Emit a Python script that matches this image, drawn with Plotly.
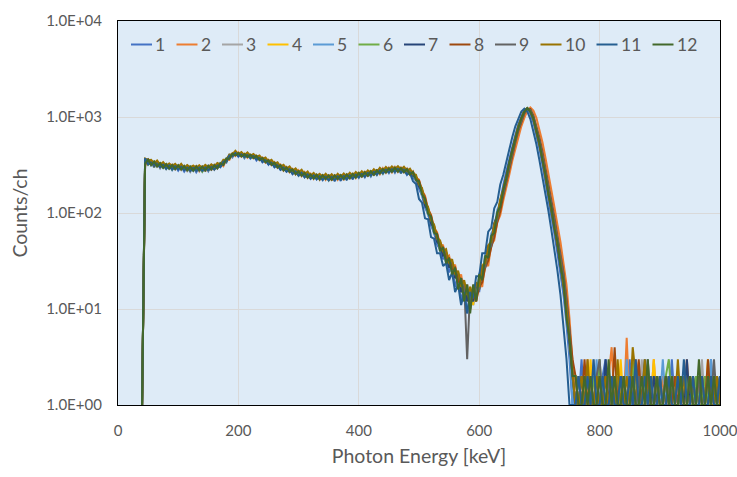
import plotly.graph_objects as go

# ---------------- data ----------------
energy_keV = list(range(40, 1001, 5))  # channel energies (5 keV bins)

series_names = ["1", "2", "3", "4", "5", "6", "7", "8", "9", "10", "11", "12"]
series_colors = ["#4472C4", "#ED7D31", "#A5A5A5", "#FFC000", "#5B9BD5", "#70AD47",
                 "#264478", "#9E480E", "#636363", "#997300", "#255E91", "#43682B"]

counts_1 = [
    1, 372, 318, 345, 298, 335, 292, 326, 288, 318, 280, 312, 276, 305, 270, 300, 268, 302, 266, 298,
    270, 305, 272, 312, 282, 318, 300, 345, 335, 402, 378, 428, 385, 420, 372, 410, 368, 398, 352, 385,
    338, 368, 318, 345, 300, 325, 282, 300, 270, 290, 255, 276, 245, 268, 236, 258, 228, 250, 224, 246,
    220, 248, 218, 245, 214, 246, 216, 248, 220, 252, 224, 256, 232, 262, 235, 268, 240, 275, 248, 282,
    255, 290, 260, 295, 262, 298, 258, 292, 250, 275, 232, 218, 178, 152, 114, 98, 74, 63, 47, 42,
    33, 36, 24, 29, 17, 22, 12, 17, 9, 14, 11, 18, 15, 26, 28, 44, 48, 76, 92, 140,
    195, 270, 370, 500, 650, 840, 1010, 1180, 1220, 1080, 880, 660, 470, 320, 215, 140, 92, 60, 38, 24,
    14, 7, 3, 1,
    2, 1, 3, 1, 2, 1, 1, 2, 1, 2, 3, 1, 1, 2, 1, 1, 2, 1, 3, 1, 2,
    1, 1, 2, 1, 1, 1, 2, 1, 2, 1, 1, 3, 1, 2, 1, 1, 2, 1, 1, 2, 1,
    1, 2, 1, 3, 1, 1, 2,
]
counts_2 = [
    1, 305, 368, 322, 340, 312, 325, 298, 322, 292, 318, 285, 312, 282, 305, 276, 300, 290, 308, 272,
    308, 270, 315, 278, 318, 290, 325, 308, 360, 358, 418, 392, 428, 386, 415, 376, 405, 372, 395, 355,
    378, 335, 358, 315, 338, 296, 318, 276, 302, 266, 288, 252, 278, 242, 266, 232, 256, 226, 250, 222,
    252, 222, 250, 218, 250, 222, 252, 220, 256, 226, 260, 232, 266, 236, 272, 240, 276, 246, 284, 254,
    292, 262, 296, 265, 302, 268, 298, 266, 290, 250, 272, 232, 222, 172, 152, 110, 96, 70, 63, 47,
    46, 34, 36, 26, 29, 19, 23, 14, 18, 10, 16, 12, 19, 17, 30, 28, 47, 52, 80, 95,
    135, 180, 250, 350, 470, 610, 800, 980, 1160, 1260, 1170, 980, 750, 550, 380, 260, 175, 115, 75, 50,
    30, 18, 8, 3,
    1, 2, 1, 1, 3, 1, 2, 1, 2, 1, 1, 2, 4, 1, 1, 2, 1, 5, 1, 1, 3,
    2, 1, 1, 2, 1, 3, 1, 1, 2, 1, 2, 1, 1, 2, 1, 1, 3, 1, 2, 1, 1,
    2, 1, 1, 2, 1, 1, 2,
]
counts_3 = [
    1, 318, 352, 312, 342, 302, 322, 295, 322, 288, 308, 292, 306, 280, 312, 274, 305, 275, 306, 276,
    306, 276, 302, 290, 308, 298, 322, 322, 364, 372, 408, 402, 415, 392, 402, 388, 398, 378, 388, 362,
    368, 342, 348, 322, 328, 302, 306, 284, 292, 272, 276, 260, 266, 246, 256, 240, 246, 232, 245, 228,
    240, 228, 238, 226, 240, 226, 242, 228, 244, 234, 250, 238, 254, 242, 260, 248, 266, 256, 272, 264,
    280, 268, 285, 274, 290, 276, 288, 270, 280, 256, 262, 218, 206, 156, 134, 98, 88, 62, 56, 42,
    41, 31, 32, 24, 26, 17, 21, 12, 18, 10, 18, 13, 22, 20, 35, 35, 57, 64, 100, 118,
    172, 232, 335, 445, 595, 775, 965, 1130, 1235, 1140, 965, 725, 535, 365, 255, 160, 112, 70, 50, 29,
    20, 9, 5, 2,
    1, 1, 2, 1, 2, 1, 3, 1, 1, 2, 1, 1, 2, 1, 2, 1, 1, 1, 2, 1, 2,
    1, 3, 1, 1, 2, 1, 1, 2, 1, 1, 2, 1, 2, 1, 1, 2, 1, 1, 2, 1, 1,
    3, 1, 2, 1, 1, 2, 1,
]
counts_4 = [
    1, 360, 322, 350, 308, 340, 298, 328, 290, 322, 288, 310, 294, 318, 286, 305, 274, 308, 278, 310,
    275, 308, 280, 312, 285, 318, 306, 340, 345, 392, 390, 422, 396, 425, 385, 405, 380, 396, 370, 382,
    350, 360, 330, 340, 312, 320, 292, 298, 278, 286, 262, 272, 250, 262, 242, 253, 232, 248, 230, 240,
    228, 242, 226, 240, 224, 242, 228, 245, 230, 250, 234, 254, 240, 258, 244, 264, 250, 270, 258, 280,
    264, 285, 270, 290, 275, 294, 272, 292, 262, 272, 246, 240, 195, 175, 124, 112, 80, 74, 52, 50,
    38, 39, 28, 31, 21, 24, 15, 19, 12, 17, 11, 19, 16, 29, 28, 46, 46, 78, 88, 135,
    165, 238, 325, 455, 585, 785, 955, 1145, 1225, 1155, 955, 735, 525, 375, 245, 170, 108, 75, 46, 32,
    18, 11, 4, 2,
    2, 1, 1, 2, 1, 3, 1, 2, 1, 1, 2, 1, 1, 2, 1, 3, 1, 1, 2, 1, 1,
    2, 1, 2, 1, 1, 3, 1, 2, 1, 1, 2, 1, 1, 2, 1, 2, 1, 1, 2, 1, 1,
    2, 1, 3, 1, 2, 1, 1,
]
counts_5 = [
    1, 322, 362, 315, 342, 310, 330, 296, 320, 290, 315, 286, 310, 290, 302, 284, 298, 276, 300, 278,
    300, 276, 310, 282, 316, 292, 332, 318, 372, 372, 408, 405, 412, 396, 402, 386, 396, 380, 386, 360,
    368, 342, 348, 322, 328, 302, 308, 282, 292, 272, 278, 258, 266, 248, 256, 238, 246, 232, 244, 228,
    240, 226, 236, 226, 238, 228, 240, 228, 244, 234, 248, 240, 254, 244, 258, 250, 264, 256, 272, 264,
    278, 266, 284, 272, 290, 278, 288, 270, 280, 256, 262, 220, 204, 152, 132, 94, 86, 60, 56, 40,
    41, 30, 32, 24, 26, 17, 20, 12, 17, 10, 17, 13, 23, 22, 38, 39, 61, 70, 108, 128,
    182, 250, 350, 475, 620, 810, 985, 1160, 1225, 1120, 925, 700, 505, 350, 235, 155, 102, 68, 44, 27,
    16, 8, 4, 1,
    1, 2, 1, 1, 2, 1, 1, 3, 1, 2, 1, 1, 2, 1, 1, 2, 1, 3, 1, 1, 2,
    1, 1, 2, 1, 1, 2, 1, 1, 3, 1, 2, 1, 1, 2, 1, 1, 2, 1, 1, 2, 1,
    2, 1, 1, 3, 1, 2, 1,
]
counts_6 = [
    1, 352, 320, 352, 308, 328, 312, 318, 290, 322, 284, 312, 292, 298, 288, 302, 278, 292, 284, 300,
    270, 306, 280, 302, 292, 312, 304, 345, 340, 396, 390, 415, 398, 412, 380, 410, 375, 392, 374, 376,
    354, 356, 325, 345, 305, 320, 294, 296, 280, 284, 262, 278, 246, 270, 238, 258, 232, 244, 234, 244,
    224, 248, 220, 244, 222, 246, 224, 248, 226, 250, 232, 256, 236, 262, 242, 268, 246, 274, 252, 282,
    258, 288, 266, 292, 270, 296, 266, 292, 260, 276, 242, 238, 192, 172, 124, 110, 80, 72, 51, 48,
    37, 37, 28, 30, 22, 23, 15, 18, 13, 15, 12, 18, 17, 27, 29, 44, 49, 74, 90, 132,
    170, 236, 332, 452, 592, 782, 962, 1142, 1232, 1152, 962, 732, 532, 372, 252, 167, 112, 73, 49, 31,
    19, 10, 5, 2,
    1, 2, 1, 2, 1, 1, 2, 1, 3, 1, 1, 2, 1, 1, 2, 1, 2, 1, 1, 3, 1,
    2, 1, 1, 2, 1, 1, 2, 1, 1, 2, 3, 1, 1, 2, 1, 1, 2, 1, 1, 2, 1,
    1, 2, 1, 1, 2, 1, 1,
]
counts_7 = [
    1, 362, 328, 342, 310, 336, 300, 320, 295, 310, 294, 305, 290, 306, 282, 310, 276, 300, 280, 296,
    285, 300, 282, 310, 286, 316, 306, 342, 344, 388, 394, 418, 394, 416, 390, 400, 380, 395, 366, 380,
    345, 360, 325, 340, 305, 320, 286, 300, 276, 285, 262, 270, 252, 260, 242, 250, 232, 245, 232, 242,
    226, 242, 222, 242, 222, 245, 224, 246, 226, 250, 232, 254, 238, 260, 242, 264, 248, 272, 254, 280,
    262, 284, 268, 290, 272, 292, 270, 290, 262, 270, 244, 234, 190, 168, 120, 106, 78, 70, 50, 46,
    36, 37, 27, 30, 21, 23, 15, 18, 12, 15, 12, 18, 16, 28, 29, 45, 50, 78, 95, 136,
    178, 246, 345, 468, 612, 805, 982, 1158, 1228, 1130, 935, 705, 510, 352, 238, 156, 104, 68, 44, 28,
    17, 9, 4, 2,
    1, 1, 2, 1, 2, 1, 1, 2, 1, 1, 3, 1, 2, 1, 1, 2, 1, 1, 2, 1, 1,
    2, 1, 3, 1, 1, 2, 1, 2, 1, 1, 2, 1, 1, 2, 1, 1, 3, 1, 2, 1, 1,
    2, 1, 1, 2, 1, 2, 1,
]
counts_8 = [
    1, 318, 358, 322, 342, 308, 328, 302, 318, 295, 312, 290, 310, 286, 305, 282, 300, 286, 304, 280,
    300, 280, 306, 286, 312, 296, 326, 318, 364, 368, 412, 400, 416, 392, 406, 386, 400, 376, 390, 362,
    372, 340, 352, 320, 332, 300, 312, 282, 296, 270, 282, 258, 270, 246, 260, 236, 250, 232, 248, 228,
    244, 228, 242, 224, 242, 228, 244, 228, 248, 234, 252, 238, 258, 244, 262, 248, 268, 254, 276, 262,
    282, 268, 288, 272, 292, 274, 290, 270, 284, 256, 266, 232, 218, 170, 146, 108, 94, 68, 61, 45,
    44, 34, 34, 26, 27, 19, 21, 14, 16, 11, 15, 12, 17, 19, 27, 32, 44, 56, 80, 104,
    150, 210, 295, 410, 540, 710, 900, 1080, 1210, 1210, 1040, 820, 610, 440, 300, 205, 135, 90, 58, 38,
    24, 13, 6, 3,
    2, 1, 1, 3, 1, 2, 1, 1, 2, 1, 2, 1, 1, 4, 1, 1, 2, 1, 1, 2, 1,
    3, 1, 1, 2, 1, 1, 2, 1, 1, 2, 1, 1, 2, 1, 2, 1, 1, 2, 1, 1, 2,
    1, 1, 3, 1, 2, 1, 1,
]
counts_9 = [
    1, 345, 330, 342, 315, 330, 305, 320, 296, 314, 290, 310, 292, 305, 285, 300, 282, 298, 280, 300,
    282, 298, 286, 302, 292, 314, 308, 340, 348, 390, 392, 420, 398, 416, 388, 405, 382, 400, 372, 380,
    352, 360, 332, 340, 312, 318, 292, 298, 278, 286, 264, 274, 252, 262, 244, 252, 234, 246, 232, 240,
    228, 242, 226, 240, 226, 242, 228, 244, 232, 248, 236, 252, 242, 258, 246, 262, 252, 270, 258, 278,
    266, 282, 272, 288, 276, 292, 274, 290, 266, 272, 250, 238, 200, 176, 130, 114, 84, 74, 53, 50,
    40, 39, 30, 31, 23, 24, 17, 19, 3, 16, 13, 18, 16, 27, 27, 42, 45, 70, 85, 122,
    158, 218, 305, 420, 555, 735, 920, 1100, 1215, 1190, 1010, 790, 580, 410, 280, 190, 128, 84, 55, 36,
    23, 12, 6, 2,
    1, 2, 1, 1, 2, 1, 1, 2, 3, 1, 1, 2, 1, 2, 1, 1, 2, 1, 1, 2, 1,
    2, 1, 1, 3, 1, 1, 2, 1, 1, 2, 1, 2, 1, 1, 2, 1, 1, 2, 1, 1, 2,
    1, 1, 2, 1, 3, 1, 2,
]
counts_10 = [
    1, 368, 355, 358, 330, 352, 320, 338, 312, 328, 310, 325, 300, 326, 296, 316, 300, 312, 298, 314,
    295, 318, 300, 322, 305, 332, 320, 358, 360, 408, 408, 445, 410, 432, 400, 428, 395, 412, 385, 398,
    365, 378, 345, 358, 325, 338, 305, 318, 290, 306, 276, 292, 266, 282, 254, 270, 244, 262, 242, 256,
    238, 256, 236, 254, 234, 256, 238, 258, 240, 262, 244, 268, 250, 272, 254, 278, 262, 286, 268, 296,
    276, 302, 282, 306, 288, 308, 284, 304, 276, 290, 256, 250, 198, 182, 128, 116, 84, 76, 55, 52,
    40, 42, 30, 33, 23, 25, 17, 20, 14, 17, 13, 19, 17, 28, 30, 46, 50, 76, 92, 138,
    176, 242, 340, 462, 605, 800, 985, 1165, 1240, 1150, 950, 720, 520, 362, 245, 162, 108, 70, 47, 30,
    18, 10, 5, 2,
    1, 1, 2, 1, 3, 1, 1, 2, 1, 1, 2, 1, 2, 1, 3, 1, 1, 2, 1, 4, 2,
    1, 1, 3, 1, 2, 1, 1, 2, 1, 1, 2, 1, 1, 3, 1, 2, 1, 1, 2, 1, 1,
    2, 1, 2, 1, 1, 2, 1,
]
counts_11 = [
    1, 372, 322, 335, 318, 322, 302, 318, 288, 312, 284, 305, 285, 302, 280, 296, 276, 294, 275, 296,
    275, 296, 280, 300, 285, 310, 302, 342, 348, 396, 390, 420, 392, 408, 382, 400, 375, 390, 362, 372,
    342, 352, 322, 332, 302, 312, 282, 296, 270, 284, 255, 270, 246, 262, 236, 252, 228, 246, 224, 240,
    222, 238, 220, 236, 220, 240, 222, 242, 226, 246, 230, 250, 236, 254, 240, 260, 246, 266, 252, 276,
    260, 280, 266, 284, 270, 286, 266, 280, 252, 260, 214, 200, 140, 128, 88, 86, 56, 54, 38, 38,
    28, 30, 20, 24, 15, 18, 11, 15, 9, 15, 13, 22, 22, 38, 38, 64, 70, 112, 130, 198,
    250, 345, 470, 620, 800, 980, 1140, 1220, 1140, 950, 720, 520, 355, 240, 160, 105, 66, 42, 25, 14,
    7, 3, 1, 1,
    1, 2, 1, 1, 2, 1, 3, 1, 1, 2, 1, 1, 2, 1, 1, 2, 1, 1, 2, 1, 3,
    1, 1, 2, 1, 2, 1, 1, 2, 1, 1, 2, 1, 1, 2, 1, 3, 1, 1, 2, 1, 1,
    2, 1, 1, 2, 1, 1, 2,
]
counts_12 = [
    1, 328, 360, 316, 342, 306, 330, 296, 322, 290, 316, 286, 314, 284, 308, 278, 304, 276, 306, 278,
    304, 278, 310, 284, 314, 292, 330, 318, 370, 368, 415, 398, 420, 388, 410, 384, 404, 374, 394, 358,
    374, 338, 354, 318, 334, 298, 314, 278, 298, 268, 284, 254, 272, 244, 262, 234, 252, 228, 250, 224,
    248, 226, 246, 222, 246, 226, 248, 226, 252, 230, 256, 234, 262, 240, 266, 244, 272, 250, 278, 258,
    286, 264, 292, 268, 296, 270, 294, 266, 286, 252, 268, 220, 214, 156, 140, 98, 92, 62, 60, 40,
    44, 30, 34, 23, 27, 16, 21, 12, 18, 9, 18, 12, 23, 20, 36, 34, 58, 62, 102, 116,
    174, 230, 336, 444, 598, 772, 968, 1132, 1238, 1142, 968, 722, 538, 362, 256, 158, 114, 69, 50, 28,
    20, 8, 5, 2,
    2, 1, 1, 2, 1, 2, 1, 1, 2, 1, 1, 3, 1, 2, 1, 1, 2, 1, 1, 2, 1,
    1, 2, 1, 3, 1, 1, 2, 1, 1, 2, 1, 2, 1, 1, 2, 1, 1, 2, 1, 1, 3,
    1, 1, 2, 1, 2, 1, 1,
]

all_counts = [counts_1, counts_2, counts_3, counts_4, counts_5, counts_6,
              counts_7, counts_8, counts_9, counts_10, counts_11, counts_12]

x_tick_vals = [0, 200, 400, 600, 800, 1000]
y_tick_vals = [1, 10, 100, 1000, 10000]
y_tick_text = ["1.0E+00", "1.0E+01", "1.0E+02", "1.0E+03", "1.0E+04"]

for c in all_counts:
    assert len(c) == len(energy_keV), len(c)

# ---------------- figure ----------------
W, H = 737, 477
ML, MR, MT, MB = 118, 17, 21, 72
PW, PH = W - ML - MR, H - MT - MB
FONT = "Lato"
GREY = "#595959"

fig = go.Figure()
for name, color, ys in zip(series_names, series_colors, all_counts):
    fig.add_trace(go.Scatter(x=energy_keV, y=ys, mode="lines", name=name,
                             line=dict(color=color, width=2), showlegend=False))

# legend (Excel style: short line + label, one row inside the plot area)
shapes, annotations = [], []
px = 131.0
legend_y = 1 - (44.5 - MT) / PH
for name, color in zip(series_names, series_colors):
    x0 = (px - ML) / PW
    x1 = (px + 21 - ML) / PW
    shapes.append(dict(type="line", xref="paper", yref="paper", x0=x0, x1=x1,
                       y0=legend_y, y1=legend_y, line=dict(color=color, width=2)))
    annotations.append(dict(xref="paper", yref="paper", x=(px + 22 - ML) / PW, y=legend_y,
                            xanchor="left", yanchor="middle", showarrow=False, text=name,
                            font=dict(family=FONT, size=17.5, color=GREY)))
    px += 45.5 if len(name) == 1 else 56

fig.update_layout(
    width=W, height=H,
    margin=dict(l=ML, r=MR, t=MT, b=MB, pad=0),
    paper_bgcolor="white",
    plot_bgcolor="#DEEBF7",
    font=dict(family=FONT, color=GREY),
    showlegend=False,
    shapes=shapes,
    annotations=annotations,
    xaxis=dict(
        range=[0, 1000], tickvals=x_tick_vals, showgrid=True, gridcolor="#D9D9D9", gridwidth=1,
        zeroline=False, showline=True, linecolor="black", linewidth=1.3, mirror=True,
        ticks="", ticklabelstandoff=12, ticklabeloverflow="allow",
        tickfont=dict(family=FONT, size=15, color=GREY),
        title=dict(text="Photon Energy [keV]", font=dict(family=FONT, size=19.5, color=GREY), standoff=11),
        automargin=False,
    ),
    yaxis=dict(
        type="log", range=[0, 4], tickvals=y_tick_vals, ticktext=y_tick_text,
        showgrid=True, gridcolor="#D9D9D9", gridwidth=1,
        zeroline=False, showline=True, linecolor="black", linewidth=1.3, mirror=True,
        ticks="", ticklabelstandoff=12, ticklabeloverflow="allow",
        tickfont=dict(family=FONT, size=15, color=GREY),
        title=dict(text="Counts/ch", font=dict(family=FONT, size=19.5, color=GREY), standoff=13),
        automargin=False,
    ),
)

fig.write_html("out.html")
